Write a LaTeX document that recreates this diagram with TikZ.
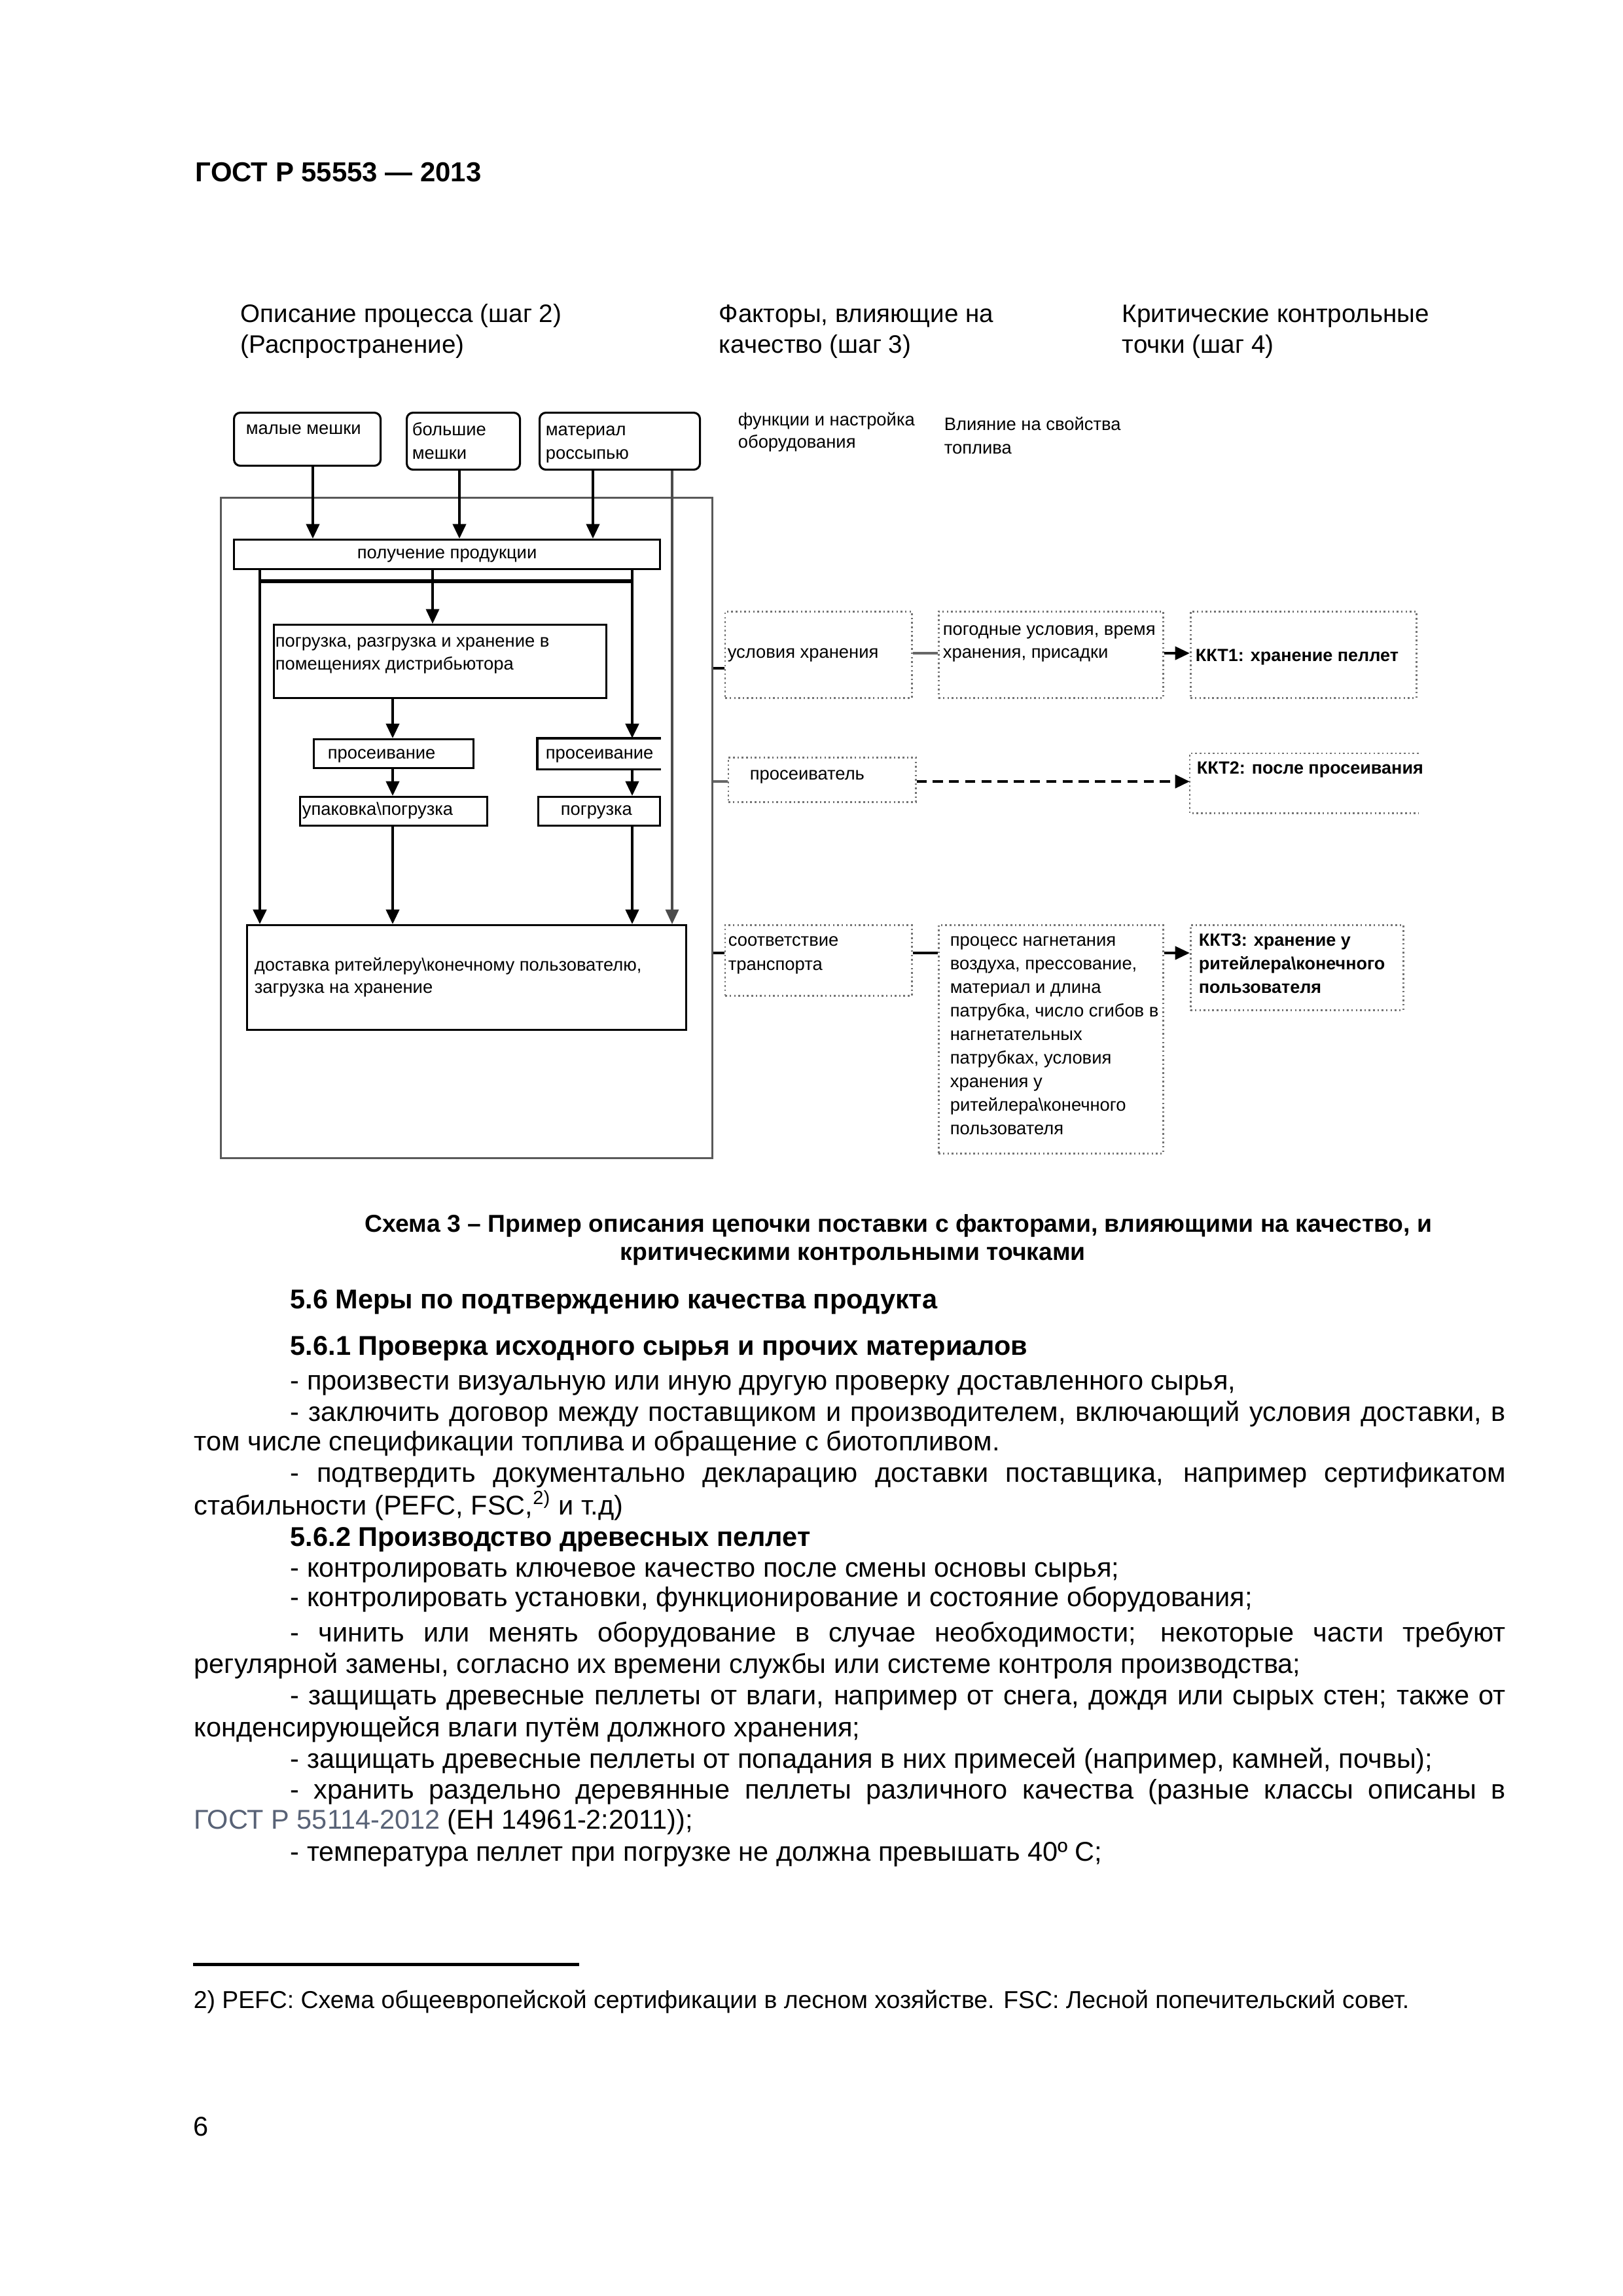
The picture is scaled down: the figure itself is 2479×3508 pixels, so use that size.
\documentclass[tikz,border=0pt]{standalone}
\usepackage{fontspec}
\setmainfont{Liberation Sans}
\usepackage{xcolor}
\usetikzlibrary{arrows.meta,positioning,calc}

\newlength\px
\setlength\px{0.08471mm}
\definecolor{gostlink}{RGB}{88,98,118}

\begin{document}
\begin{tikzpicture}[x=0.08471mm, y=-0.08471mm,
  source/.style={draw, line width=0.75pt, rounded corners=0.8mm, inner sep=0pt, anchor=north west},
  stage/.style={draw, line width=0.75pt, inner sep=0pt, anchor=north west},
  factor/.style={draw=black!55, densely dotted, line width=0.6pt, inner sep=0pt, anchor=north west},
  flow/.style={line width=1pt, -{Triangle[length=1.9mm,width=1.7mm]}},
  wire/.style={line width=1pt},
  txt/.style={font=\fontsize{6.6}{8}\selectfont, inner sep=0pt, anchor=base west},
  ccp/.style={txt, font=\fontsize{6.5}{8}\selectfont\bfseries},
  colhead/.style={font=\fontsize{9.3}{11}\selectfont, inner sep=0pt, anchor=base west},
  body/.style={font=\fontsize{10}{12}\selectfont, inner sep=0pt, anchor=base west},
  bodyhead/.style={body, font=\fontsize{10}{12}\selectfont\bfseries},
  capt/.style={body, font=\fontsize{9}{11}\selectfont\bfseries},
  note/.style={body, font=\fontsize{9}{11}\selectfont}]

  \useasboundingbox (0,0) rectangle (2479,3508);
  \fill[white] (0,0) rectangle (2479,3508);

  % page header
  \node[body, font=\fontsize{10.1}{12}\selectfont\bfseries] (gost) at (298,277) {ГОСТ Р 55553 — 2013};

  % column headings
  \node[colhead] (h1a) at (367,492) {Описание процесса (шаг 2)};
  \node[colhead] (h1b) at (367,539) {(Распространение)};
  \node[colhead] (h2a) at (1098,492) {Факторы, влияющие на};
  \node[colhead] (h2b) at (1098,539) {качество (шаг 3)};
  \node[colhead] (h3a) at (1714,492) {Критические контрольные};
  \node[colhead] (h3b) at (1714,539) {точки (шаг 4)};

  \node[txt] (fn1) at (1127,650) {функции и настройка};
  \node[txt] (fn2) at (1127,684) {оборудования};
  \node[txt] (inf1) at (1442,657) {Влияние на свойства};
  \node[txt] (inf2) at (1442,693) {топлива};

  % process description
  \node[stage, draw=black!65, line width=0.8pt, minimum width=751*\px, minimum height=1009*\px] (outer) at (336,759) {};

  \node[source, minimum width=224*\px, minimum height=81*\px] (small) at (356,629) {};
  \node[source, minimum width=173*\px, minimum height=87*\px] (big) at (620,629) {};
  \node[source, minimum width=245*\px, minimum height=87*\px] (bulk) at (823,629) {};
  \node[txt] (tsmall) at ($(small.north west)+(19,34)$) {малые мешки};
  \node[txt] (tbig1) at ($(big.north west)+(9,36)$) {большие};
  \node[txt] (tbig2) at ($(big.north west)+(9,72)$) {мешки};
  \node[txt] (tbulk1) at ($(bulk.north west)+(10,36)$) {материал};
  \node[txt] (tbulk2) at ($(bulk.north west)+(10,72)$) {россыпью};

  \node[stage, minimum width=651*\px, minimum height=45*\px] (recv) at (356,823) {};
  \node[txt, anchor=base] (trecv) at ($(recv.north)+(0,30)$) {получение продукции};

  \node[stage, minimum width=508*\px, minimum height=112*\px] (load) at (417,953) {};
  \node[txt] (tload1) at ($(load.north west)+(3,35)$) {погрузка, разгрузка и хранение в};
  \node[txt] (tload2) at ($(load.north west)+(3,70)$) {помещениях дистрибьютора};

  \node[stage, minimum width=244*\px, minimum height=44*\px] (sieveL) at (478,1128) {};
  \node[txt] (tsieveL) at ($(sieveL.north west)+(22,31)$) {просеивание};
  \node[stage, minimum width=286*\px, minimum height=44*\px] (packL) at (457,1216) {};
  \node[txt] (tpackL) at ($(packL.north west)+(4,29)$) {упаковка\textbackslash погрузка};

  \node[stage, draw=none, minimum width=186*\px, minimum height=44*\px] (sieveR) at (821,1128) {};
  \draw[line width=0.75pt] (sieveR.north east) -- (sieveR.north west) -- (sieveR.south west) -- (sieveR.south east);
  \node[txt] (tsieveR) at ($(sieveR.north west)+(12,31)$) {просеивание};
  \node[stage, minimum width=186*\px, minimum height=44*\px] (loadR) at (821,1216) {};
  \node[txt] (tloadR) at ($(loadR.north west)+(35,29)$) {погрузка};

  \node[stage, minimum width=671*\px, minimum height=160*\px] (deliv) at (376,1412) {};
  \node[txt] (tdeliv1) at ($(deliv.north west)+(12,71)$) {доставка ритейлеру\textbackslash конечному пользователю,};
  \node[txt] (tdeliv2) at ($(deliv.north west)+(12,105)$) {загрузка на хранение};

  % lanes
  \coordinate (laneA) at (397,0);
  \coordinate (lane1) at (478,0);
  \coordinate (laneC) at (600,0);
  \coordinate (laneB) at (661,0);
  \coordinate (lane2) at (702,0);
  \coordinate (lane3) at (906,0);
  \coordinate (laneD) at (966,0);
  \coordinate (lane4) at (1027,0);
  \coordinate (bus) at (0,888);

  \draw[flow] (small.south -| lane1) -- (recv.north -| lane1);
  \draw[flow] (big.south -| lane2) -- (recv.north -| lane2);
  \draw[flow] (bulk.south -| lane3) -- (recv.north -| lane3);
  \draw[flow, line width=0.8pt, draw=black!70] (bulk.south -| lane4) -- (deliv.north -| lane4);

  \draw[wire, line width=1.4pt] (bus -| laneA) -- (bus -| laneD);
  \draw[flow, line width=1.2pt] (recv.south -| laneA) -- (deliv.north -| laneA);
  \draw[flow, line width=1.2pt] (recv.south -| laneD) -- (sieveR.north -| laneD);
  \draw[flow, line width=0.8pt] (recv.south -| laneB) -- (load.north -| laneB);
  \draw[flow] (load.south -| laneC) -- (sieveL.north -| laneC);
  \draw[flow] (sieveL.south -| laneC) -- (packL.north -| laneC);
  \draw[flow] (packL.south -| laneC) -- (deliv.north -| laneC);
  \draw[flow] (sieveR.south -| laneD) -- (loadR.north -| laneD);
  \draw[flow] (loadR.south -| laneD) -- (deliv.north -| laneD);

  % factors and critical points
  \node[factor, minimum width=285*\px, minimum height=132*\px] (f1) at (1107,933) {};
  \node[factor, minimum width=343*\px, minimum height=132*\px] (e1) at (1433,933) {};
  \node[factor, minimum width=345*\px, minimum height=132*\px] (k1) at (1818,933) {};
  \node[txt] (tf1) at ($(f1.north west)+(4,72)$) {условия хранения};
  \node[txt] (te1a) at ($(e1.north west)+(7,37)$) {погодные условия, время};
  \node[txt] (te1b) at ($(e1.north west)+(7,72)$) {хранения, присадки};
  \node[ccp] (tk1) at ($(k1.north west)+(8,77)$) {ККТ1: хранение пеллет};

  \node[factor, minimum width=286*\px, minimum height=68*\px] (f2) at (1112,1156) {};
  \node[factor, draw=none, minimum width=347*\px, minimum height=89*\px] (k2) at (1818,1151) {};
  \draw[black!55, densely dotted, line width=0.6pt] (k2.north east) -- (k2.north west) -- (k2.south west) -- (k2.south east);
  \node[txt] (tf2) at ($(f2.north west)+(33,35)$) {просеиватель};
  \node[ccp] (tk2) at ($(k2.north west)+(10,31)$) {ККТ2: после просеивания};

  \node[factor, minimum width=285*\px, minimum height=108*\px] (f3) at (1107,1412) {};
  \node[factor, minimum width=343*\px, minimum height=349*\px] (e3) at (1433,1412) {};
  \node[factor, minimum width=325*\px, minimum height=130*\px] (k3) at (1818,1412) {};
  \node[txt] (tf3a) at ($(f3.north west)+(5,33)$) {соответствие};
  \node[txt] (tf3b) at ($(f3.north west)+(5,70)$) {транспорта};
  \foreach \t [count=\i from 0] in {процесс нагнетания, {воздуха, прессование,}, материал и длина,
      {патрубка, число сгибов в}, нагнетательных, {патрубках, условия}, хранения у,
      ритейлера\textbackslash конечного, пользователя}
    \node[txt] (te3-\i) at ($(e3.north west)+(18,33+36*\i)$) {\t};
  \foreach \t [count=\i from 0] in {ККТ3: хранение у, ритейлера\textbackslash конечного, пользователя}
    \node[ccp] (tk3-\i) at ($(k3.north west)+(13,33+36*\i)$) {\t};

  \coordinate (r1) at (0,1021);
  \coordinate (r1b) at (0,998);
  \coordinate (r2) at (0,1194);
  \coordinate (r3) at (0,1456);

  \draw[wire] (outer.east |- r1) -- (f1.west |- r1);
  \draw[wire, draw=black!60] (f1.east |- r1b) -- (e1.west |- r1b);
  \draw[flow] (e1.east |- r1b) -- (k1.west |- r1b);

  \draw[wire, draw=black!60] (outer.east |- r2) -- (f2.west |- r2);
  \draw[flow, line width=1.1pt, dash pattern=on 1.3mm off 0.8mm] (f2.east |- r2) -- (k2.west |- r2);

  \draw[wire] (outer.east |- r3) -- (f3.west |- r3);
  \draw[wire] (f3.east |- r3) -- (e3.west |- r3);
  \draw[flow] (e3.east |- r3) -- (k3.west |- r3);

  % caption and text
  \node[capt] (cap1) at (557,1882) {Схема 3 – Пример описания цепочки поставки с факторами, влияющими на качество, и};
  \node[capt] (cap2) at (947,1925) {критическими контрольными точками};

  \node[bodyhead] (s56) at (443,1999) {5.6 Меры по подтверждению качества продукта};
  \node[bodyhead] (s561) at (443,2070) {5.6.1 Проверка исходного сырья и прочих материалов};
  \node[body] (l1) at (443,2123) {- произвести визуальную или иную другую проверку доставленного сырья,};
  \node[body] (l2) at (443,2171) {\makebox[1857\px][s]{- заключить договор между поставщиком и производителем, включающий условия доставки, в}};
  \node[body] (l3) at (296,2216) {том числе спецификации топлива и обращение с биотопливом.};
  \node[body] (l4) at (443,2264) {\makebox[1857\px][s]{- подтвердить документально декларацию доставки поставщика, например сертификатом}};
  \node[body] (l5) at (296,2314) {стабильности (PEFC, FSC,\textsuperscript{2)} и т.д)};
  \node[bodyhead] (s562) at (443,2362) {5.6.2 Производство древесных пеллет};
  \node[body] (l6) at (443,2409) {- контролировать ключевое качество после смены основы сырья;};
  \node[body] (l7) at (443,2454) {- контролировать установки, функционирование и состояние оборудования;};
  \node[body] (l8) at (443,2508) {\makebox[1857\px][s]{- чинить или менять оборудование в случае необходимости; некоторые части требуют}};
  \node[body] (l9) at (296,2556) {регулярной замены, согласно их времени службы или системе контроля производства;};
  \node[body] (l10) at (443,2604) {\makebox[1857\px][s]{- защищать древесные пеллеты от влаги, например от снега, дождя или сырых стен; также от}};
  \node[body] (l11) at (296,2653) {конденсирующейся влаги путём должного хранения;};
  \node[body] (l12) at (443,2701) {- защищать древесные пеллеты от попадания в них примесей (например, камней, почвы);};
  \node[body] (l13) at (443,2748) {\makebox[1857\px][s]{- хранить раздельно деревянные пеллеты различного качества (разные классы описаны в}};
  \node[body] (l14) at (296,2794) {{\color{gostlink}ГОСТ Р 55114-2012} (ЕН 14961-2:2011));};
  \node[body] (l15) at (443,2843) {- температура пеллет при погрузке не должна превышать 40º С;};

  % footnote
  \coordinate (rule0) at (295,3001);
  \coordinate (rule1) at (885,3001);
  \draw[line width=1.2pt] (rule0) -- (rule1);
  \node[note] (foot) at (295,3068) {2) PEFC: Схема общеевропейской сертификации в лесном хозяйстве. FSC: Лесной попечительский совет.};
  \node[body] (pageno) at (295,3263) {6};
\end{tikzpicture}
\end{document}
